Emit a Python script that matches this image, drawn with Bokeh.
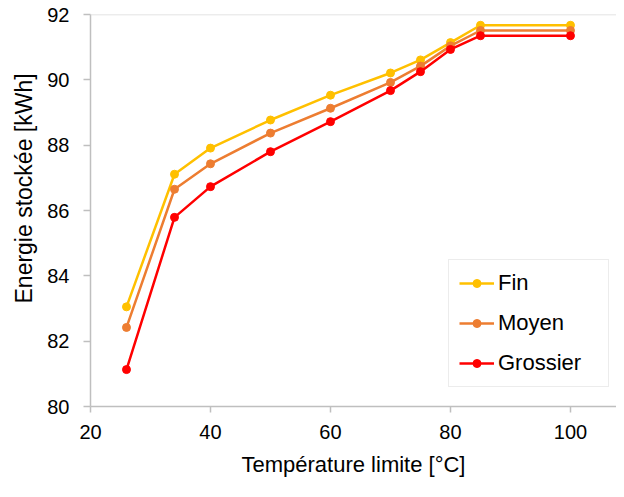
from bokeh.plotting import figure
from bokeh.models import Legend, LegendItem, Span, Range1d, FixedTicker, Title
from bokeh.embed import file_html
from bokeh.resources import INLINE

temperature = [26, 34, 40, 50, 60, 70, 75, 80, 85, 100]
fin = [83.05, 87.11, 87.91, 88.77, 89.53, 90.21, 90.61, 91.14, 91.67, 91.67]
moyen = [82.42, 86.65, 87.43, 88.37, 89.13, 89.92, 90.42, 91.04, 91.51, 91.51]
grossier = [81.13, 85.79, 86.73, 87.80, 88.72, 89.67, 90.25, 90.93, 91.35, 91.35]

series_names = ["Fin", "Moyen", "Grossier"]
series_colors = ["#FFC000", "#ED7D31", "#FF0000"]
x_ticks = [20, 40, 60, 80, 100]
y_ticks = [80, 82, 84, 86, 88, 90, 92]

FONT = "Liberation Sans"
AXIS_COLOR = "#BFBFBF"

p = figure(width=616, height=481, output_backend="svg", toolbar_location=None,
           x_range=Range1d(20, 107.67), y_range=Range1d(80, 92),
           min_border_left=90, min_border_top=14, min_border_right=0, min_border_bottom=75)
p.outline_line_color = None
p.xgrid.visible = False
p.ygrid.visible = False
p.background_fill_color = "white"
p.border_fill_color = "white"

p.add_layout(Span(location=92, dimension="width", line_color="#D9D9D9", line_width=1.5))

items = []
for name, vals, col in zip(series_names, [fin, moyen, grossier], series_colors):
    r1 = p.line(temperature, vals, line_color=col, line_width=2.5)
    r2 = p.scatter(temperature, vals, marker="circle", size=8, fill_color=col, line_color=col)
    items.append(LegendItem(label=name, renderers=[r1, r2]))

legend = Legend(items=items, location=(358, 19), border_line_color="#D9D9D9", border_line_width=1.5,
                label_text_font=FONT, label_text_font_size="22px", label_text_color="black",
                padding=10, spacing=14, glyph_width=35, label_standoff=4, label_width=100,
                margin=0, background_fill_alpha=1.0)
p.add_layout(legend, "center")

for ax in [p.xaxis[0], p.yaxis[0]]:
    ax.axis_line_color = AXIS_COLOR
    ax.axis_line_width = 1.5
    ax.major_tick_line_color = AXIS_COLOR
    ax.major_tick_line_width = 1.5
    ax.major_tick_in = 0
    ax.minor_tick_line_color = None
    ax.major_label_text_font = FONT
    ax.major_label_text_font_size = "20px"
    ax.major_label_text_color = "black"
    ax.axis_label_text_font = FONT
    ax.axis_label_text_font_size = "22px"
    ax.axis_label_text_font_style = "normal"
    ax.axis_label_text_color = "black"

p.xaxis.ticker = FixedTicker(ticks=x_ticks)
p.yaxis.ticker = FixedTicker(ticks=y_ticks)
p.xaxis.major_tick_out = 6
p.yaxis.major_tick_out = 7
p.xaxis.major_label_standoff = 12
p.yaxis.major_label_standoff = 14
p.xaxis.axis_label = "Température limite [°C]"
p.xaxis.axis_label_standoff = 10

ytitle = Title(text="Energie  stockée [kWh]", align="left", offset=103,
               text_font=FONT, text_font_size="23px", text_font_style="normal",
               text_color="black", standoff=15)
p.add_layout(ytitle, "left")

open("out.html", "w").write(file_html(p, INLINE))
